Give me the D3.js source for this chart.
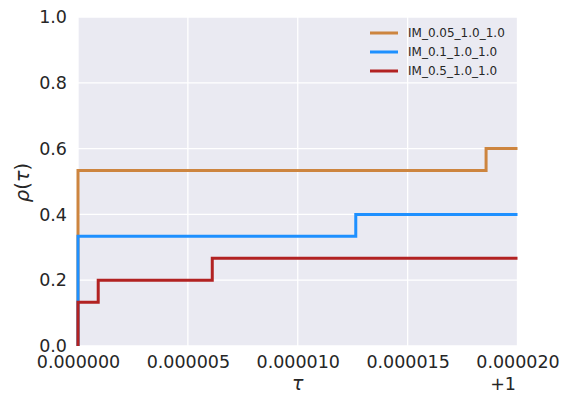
<!DOCTYPE html>
<html>
<head>
<meta charset="utf-8">
<script src="https://cdn.jsdelivr.net/npm/d3@7"></script>
<style>
  body { margin: 0; background: #fff; }
  text { font-family: "DejaVu Sans", sans-serif; fill: #262626; }
</style>
</head>
<body>
<svg id="chart" width="561" height="396"></svg>
<script>
// Data (tau offsets from +1)
const seriesNames = ["IM_0.05_1.0_1.0", "IM_0.1_1.0_1.0", "IM_0.5_1.0_1.0"];
const seriesColors = ["#CD853F", "#1E90FF", "#B22222"];
const tauOrange = [0, 0, 0.00001857, 0.00002];
const rhoOrange = [0, 0.5333, 0.6, 0.6];
const tauBlue = [0, 0, 0.00001264, 0.00002];
const rhoBlue = [0, 0.3333, 0.4, 0.4];
const tauRed = [0, 0, 0.00000092, 0.00000611, 0.00002];
const rhoRed = [0, 0.1333, 0.2, 0.2667, 0.2667];
const xTicks = [0, 0.000005, 0.00001, 0.000015, 0.00002];
const xTickLabels = ["0.000000", "0.000005", "0.000010", "0.000015", "0.000020"];
const yTicks = [0, 0.2, 0.4, 0.6, 0.8, 1.0];
const yTickLabels = ["0.0", "0.2", "0.4", "0.6", "0.8", "1.0"];

const svg = d3.select("#chart");
const L = 78, R = 517.5, T = 17, B = 346;
const x = d3.scaleLinear().domain([0, 0.00002]).range([L, R]);
const y = d3.scaleLinear().domain([0, 1]).range([B, T]);

svg.append("rect").attr("x", L).attr("y", T).attr("width", R - L).attr("height", B - T).attr("fill", "#EAEAF2");

// grid
svg.append("g").selectAll("line").data(xTicks).join("line")
  .attr("x1", d => x(d)).attr("x2", d => x(d)).attr("y1", T).attr("y2", B)
  .attr("stroke", "#fff").attr("stroke-width", 1.3);
svg.append("g").selectAll("line").data(yTicks).join("line")
  .attr("x1", L).attr("x2", R).attr("y1", d => y(d)).attr("y2", d => y(d))
  .attr("stroke", "#fff").attr("stroke-width", 1.3);

// x axis labels
const xAxis = d3.axisBottom(x).tickValues(xTicks).tickFormat((d, i) => xTickLabels[i]).tickSize(0).tickPadding(0);
const gx = svg.append("g").attr("transform", `translate(0,${B})`).call(xAxis);
gx.select(".domain").remove();
gx.selectAll("text").attr("font-size", 17.5).attr("fill", "#262626").attr("dy", null).attr("y", 22)
  .attr("font-family", "DejaVu Sans, sans-serif");

const yAxis = d3.axisLeft(y).tickValues(yTicks).tickFormat((d, i) => yTickLabels[i]).tickSize(0).tickPadding(11);
const gy = svg.append("g").attr("transform", `translate(${L},0)`).call(yAxis);
gy.select(".domain").remove();
gy.selectAll("text").attr("font-size", 17.5).attr("fill", "#262626")
  .attr("font-family", "DejaVu Sans, sans-serif");

// offset text
svg.append("text").attr("x", 516).attr("y", 390).attr("text-anchor", "end").attr("font-size", 17.5).text("+1");

// axis labels
svg.append("text").attr("x", (L + R) / 2).attr("y", 390).attr("text-anchor", "middle")
  .attr("font-size", 19).attr("font-style", "italic").text("τ");
svg.append("text").attr("transform", `translate(28.5,${(T + B) / 2 + 1}) rotate(-90)`).attr("text-anchor", "middle")
  .attr("font-size", 19.5).html('<tspan font-style="italic">ρ</tspan>(<tspan font-style="italic">τ</tspan>)');

// lines
const line = d3.line().x(d => x(d[0])).y(d => y(d[1])).curve(d3.curveStepAfter);
const series = [
  d3.zip(tauOrange, rhoOrange),
  d3.zip(tauBlue, rhoBlue),
  d3.zip(tauRed, rhoRed)
];
svg.append("g").selectAll("path").data(series).join("path")
  .attr("d", line).attr("fill", "none")
  .attr("stroke", (d, i) => seriesColors[i]).attr("stroke-width", 3);

// legend
const lg = svg.append("g");
seriesNames.forEach((n, i) => {
  const yy = 33 + i * 19;
  lg.append("line").attr("x1", 370).attr("x2", 398).attr("y1", yy).attr("y2", yy)
    .attr("stroke", seriesColors[i]).attr("stroke-width", 3);
  lg.append("text").attr("x", 408).attr("y", yy + 4.3).attr("font-size", 12).attr("fill", "#333").text(n);
});
</script>
</body>
</html>
